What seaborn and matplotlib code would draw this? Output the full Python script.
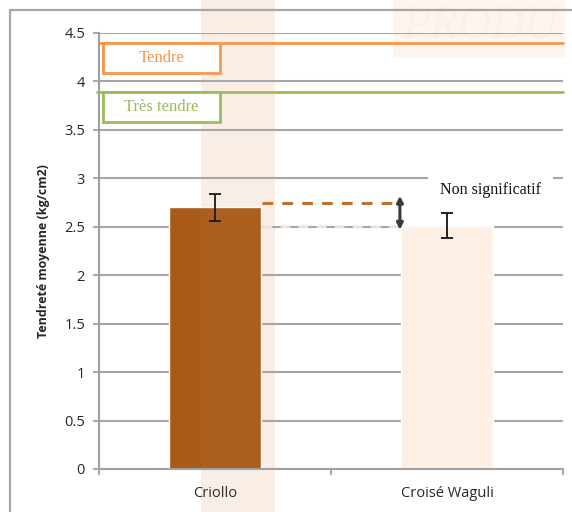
import matplotlib
matplotlib.use("Agg")
import matplotlib.pyplot as plt
import matplotlib.transforms as mtransforms
from matplotlib.patches import Rectangle
import pandas as pd
import seaborn as sns

# donnees
races = ["Criollo", "Croisé Waguli"]
tendrete = [2.70, 2.51]
erreur = [0.14, 0.13]
couleurs = ["#A85A16", "#FDEFE3"]

seuils = [4.40, 3.89]
seuils_noms = ["Tendre", "Très tendre"]
seuils_couleurs = ["#F7964A", "#9BBB59"]

yticks = [0, 0.5, 1, 1.5, 2, 2.5, 3, 3.5, 4, 4.5]

sns.set_style("white")
plt.rcParams["font.family"] = ["Open Sans", "DejaVu Sans"]

df = pd.DataFrame({"race": races, "tendrete": tendrete})

fig = plt.figure(figsize=(5.72, 5.12), dpi=100)

# fond (filigrane)
bande = (201 / 572, 0), 74 / 572, 1
fig.add_artist(Rectangle(*bande, transform=fig.transFigure,
                         facecolor="#F9EFE6", edgecolor="none", zorder=-10))
fig.add_artist(Rectangle(*bande, transform=fig.transFigure,
                         facecolor="#F5E4D6", edgecolor="none", alpha=0.045, zorder=20))
fig.add_artist(Rectangle((393 / 572, 1 - 58 / 512), 173 / 572, 58 / 512,
                         transform=fig.transFigure, facecolor="#FDF5EE",
                         edgecolor="none", zorder=-10))
fig.text(402 / 572, 1 - 38 / 512, "PRODU", family="Liberation Serif", style="italic",
         fontsize=33, color="#FBF0E6", zorder=-9)
fig.add_artist(Rectangle((10 / 572, -0.1), 2, 1.1 - 10 / 512, transform=fig.transFigure,
                         fill=False, edgecolor="#A6A6A6", lw=1.6, zorder=-8))

ax = fig.add_axes([99 / 572, 43 / 512, 464 / 572, 436 / 512])
ax.patch.set_alpha(0)

sns.barplot(data=df, x="race", y="tendrete", hue="race", palette=couleurs,
            width=0.4, saturation=1, legend=False, ax=ax, zorder=2)
ax.errorbar(range(len(races)), tendrete, yerr=erreur, fmt="none", ecolor="#111111",
            elinewidth=1.3, capsize=4.5, capthick=1.3, zorder=4)

ax.set_xlim(-0.5, 1.5)
ax.set_ylim(0, 4.5)
ax.set_yticks(yticks)
ax.set_yticklabels([f"{v:g}" for v in yticks])
ax.set_axisbelow(True)
ax.yaxis.grid(True, color="#A6A6A6", lw=1.5)
ax.set_xlabel("")
ax.set_ylabel("Tendreté moyenne (kg/cm2)", fontsize=9, fontweight="bold", labelpad=10)

for s in ["top", "right"]:
    ax.spines[s].set_visible(False)
for s in ["left", "bottom"]:
    ax.spines[s].set_color("#A0A0A0")
    ax.spines[s].set_linewidth(1.5)
ax.tick_params(axis="y", direction="out", length=4, width=1.3, color="#A0A0A0",
               labelsize=10.5, pad=6, left=True)
ax.tick_params(axis="x", length=0, labelsize=10.5, pad=12)
ax.set_xticks([-0.5, 0.5, 1.5], minor=True)
ax.tick_params(axis="x", which="minor", direction="out", length=4, width=1.3,
               color="#A0A0A0", bottom=True)

# seuils de tendrete
trans = mtransforms.blended_transform_factory(ax.transAxes, ax.transData)
for val, nom, col, x0 in zip(seuils, seuils_noms, seuils_couleurs, [0.002, -0.004]):
    ax.plot([x0, 1], [val, val], color=col, lw=2, transform=trans, zorder=5,
            clip_on=False)
    ax.add_patch(Rectangle((0.009, val - 0.31), 0.252, 0.31, transform=trans,
                           facecolor="white", edgecolor=col, lw=2, zorder=6))
    ax.text(0.135, val - 0.155, nom, transform=trans, ha="center", va="center",
            family="Liberation Serif", fontsize=12, color=col, zorder=7)

# comparaison des moyennes
ax.plot([0.203, 0.81], [2.75, 2.75], color="#C0702C", lw=2.2, ls=(0, (3.5, 3)), zorder=5)
ax.plot([0.203, 0.80], [tendrete[1], tendrete[1]], color="#FBE3CF", lw=2,
        ls=(0, (3.5, 3)), zorder=5)
ax.annotate("", xy=(0.797, 2.47), xytext=(0.797, 2.82),
            arrowprops=dict(arrowstyle="<|-|>", color="#3A3A3A", lw=2.2,
                            mutation_scale=9, shrinkA=0, shrinkB=0), zorder=6)
ax.text(0.97, 2.88, "Non significatif", family="Liberation Serif", fontsize=11.5,
        va="center", ha="left", color="#111111", zorder=7,
        bbox=dict(facecolor="white", edgecolor="none", pad=9))

fig.savefig("out.png", dpi=100)
